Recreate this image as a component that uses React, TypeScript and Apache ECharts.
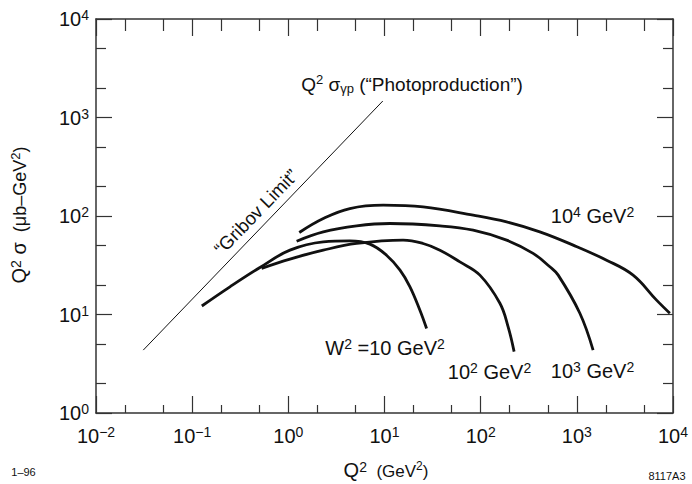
import React, { useEffect, useRef } from "react";
import * as echarts from "echarts";

// ---- data ----
const gribovQ2 = [0.031, 9.6];
const gribovVal = [4.35, 1470];

const w10Q2 = [0.126, 0.247, 0.507, 1.04, 2.31, 4.36, 7.05, 10.5, 14.5, 18.4, 23.3, 27.4];
const w10Val = [12.2, 19.1, 30.0, 45, 54.6, 55.9, 51.8, 40, 28.2, 19.1, 11.1, 7.2];

const w100Q2 = [0.527, 1.04, 2.31, 5.13, 15.6, 25.2, 37.7, 60.8, 98.2, 158.5, 193, 222.8];
const w100Val = [29.4, 36.5, 45, 52.6, 56.9, 52.6, 45, 34.2, 25.1, 13, 7.5, 4.2];

const w1000Q2 = [1.22, 2.31, 5.13, 11.4, 37.7, 83.6, 186, 351, 524, 640, 1075, 1476];
const w1000Val = [55.5, 69, 79.4, 83.9, 79.4, 71.8, 56.9, 41.7, 30.5, 25.1, 10.3, 4.35];

const w10000Q2 = [1.3, 2.31, 4.36, 9.7, 25.2, 83.6, 186, 412, 916, 2037, 3846, 6745, 9270];
const w10000Val = [68, 94.3, 119, 128.7, 123.7, 102, 87.1, 69, 50.6, 35.6, 25.1, 14, 10.3];

const majorX = [0.01, 0.1, 1, 10, 100, 1000, 10000];
const minorX = [0.02, 0.05, 0.2, 0.5, 2, 5, 20, 50, 200, 500, 2000, 5000];
const majorY = [1, 10, 100, 1000, 10000];
const minorY = [2, 5, 20, 50, 200, 500, 2000, 5000];

const FONT = "'Liberation Sans', Arial, Helvetica, sans-serif";
const INK = "#111";
const FRAME = "#333";

const zip = (a: number[], b: number[]) => a.map((v, i) => [v, b[i]]);

const tickFmt = (v: number) => {
  const e = Math.round(Math.log10(v));
  const s = e < 0 ? "\u2212" + -e : String(e);
  return `{b|10}{s|${s}}`;
};

const tickRich = {
  b: { fontSize: 20, lineHeight: 22, fontFamily: FONT, color: INK },
  s: { fontSize: 14, lineHeight: 10, verticalAlign: "top", fontFamily: FONT, color: INK },
};

function makeAxis(
  kind: "x" | "y",
  position: string,
  ticks: number[],
  len: number,
  showLine: boolean,
  labels: boolean
) {
  const isX = kind === "x";
  return {
    type: "log",
    logBase: 10,
    min: isX ? 0.01 : 1,
    max: 10000,
    position,
    gridIndex: 0,
    axisLine: { show: showLine, onZero: false, lineStyle: { color: FRAME, width: 1.5 } },
    axisTick: {
      show: true,
      inside: true,
      length: len,
      customValues: ticks,
      lineStyle: { color: FRAME, width: 1.2 },
    },
    minorTick: { show: false },
    splitLine: { show: false },
    axisLabel: labels
      ? {
          show: true,
          customValues: ticks,
          formatter: tickFmt,
          rich: tickRich,
          margin: isX ? 12 : 7,
        }
      : { show: false },
  };
}

const curveStyle = { color: INK, width: 2.8 };

function curve(q: number[], v: number[]) {
  return {
    type: "line",
    xAxisIndex: 0,
    yAxisIndex: 0,
    data: zip(q, v),
    showSymbol: false,
    symbol: "none",
    smooth: 0.4,
    lineStyle: curveStyle,
    silent: true,
  };
}

const labRich = {
  m: { fontSize: 20, lineHeight: 22, fontFamily: FONT, color: INK },
  s: { fontSize: 14, lineHeight: 10, verticalAlign: "top", fontFamily: FONT, color: INK },
};

function label(text: string, x: number, y: number, rich: any, rotation = 0) {
  return {
    type: "text",
    x,
    y,
    rotation,
    style: {
      text,
      rich,
      align: "center",
      verticalAlign: "middle",
      fill: INK,
      font: `20px ${FONT}`,
    },
    silent: true,
  };
}

const option = {
  animation: false,
  backgroundColor: "#fff",
  grid: { left: 96, right: 19, top: 19, bottom: 71, containLabel: false },
  xAxis: [
    makeAxis("x", "bottom", majorX, 17, true, true),
    makeAxis("x", "bottom", minorX, 8, false, false),
    makeAxis("x", "top", majorX, 17, true, false),
    makeAxis("x", "top", minorX, 12, false, false),
  ],
  yAxis: [
    makeAxis("y", "left", majorY, 16, true, true),
    makeAxis("y", "left", minorY, 10, false, false),
    makeAxis("y", "right", majorY, 16, true, false),
    makeAxis("y", "right", minorY, 10, false, false),
  ],
  series: [
    {
      type: "line",
      xAxisIndex: 0,
      yAxisIndex: 0,
      data: zip(gribovQ2, gribovVal),
      showSymbol: false,
      symbol: "none",
      lineStyle: { color: INK, width: 1 },
      silent: true,
    },
    curve(w10Q2, w10Val),
    curve(w100Q2, w100Val),
    curve(w1000Q2, w1000Val),
    curve(w10000Q2, w10000Val),
  ],
  graphic: [
    label(
      "{m|Q}{s|2}{m| \u03c3}{sub|\u03b3p}{m| (\u201cPhotoproduction\u201d)}",
      412,
      84,
      {
        m: { fontSize: 19, lineHeight: 22, fontFamily: FONT, color: INK },
        s: { fontSize: 13, lineHeight: 10, verticalAlign: "top", fontFamily: FONT, color: INK },
        sub: { fontSize: 13, lineHeight: 12, verticalAlign: "bottom", fontFamily: FONT, color: INK },
      }
    ),
    label(
      "{m|\u201cGribov Limit\u201d}",
      256,
      212,
      { m: { fontSize: 18.5, lineHeight: 20, fontFamily: FONT, color: INK } },
      0.8
    ),
    label("{m|W}{s|2}{m| =10 GeV}{s|2}", 385, 348, labRich),
    label("{m|10}{s|2}{m| GeV}{s|2}", 489.5, 372, labRich),
    label("{m|10}{s|3}{m| GeV}{s|2}", 592.5, 370.5, labRich),
    label("{m|10}{s|4}{m| GeV}{s|2}", 592.5, 215.5, labRich),
    // x axis title
    label("{q|Q}{qs|2}{g|  (GeV}{gs|2}{g|)}", 386, 470, {
      q: { fontSize: 20, lineHeight: 20, verticalAlign: "bottom", fontFamily: FONT, color: INK },
      qs: { fontSize: 14, lineHeight: 9, verticalAlign: "top", fontFamily: FONT, color: INK },
      g: { fontSize: 17, lineHeight: 17, verticalAlign: "bottom", fontFamily: FONT, color: INK },
      gs: { fontSize: 12, lineHeight: 13, verticalAlign: "top", fontFamily: FONT, color: INK },
    }),
    // y axis title
    label(
      "{q|Q}{qs|2}{q| \u03c3}{g|  (\u03bcb\u2013GeV}{gs|2}{g|)}",
      19,
      215,
      {
        q: { fontSize: 20, lineHeight: 20, verticalAlign: "bottom", fontFamily: FONT, color: INK },
        qs: { fontSize: 14, lineHeight: 9, verticalAlign: "top", fontFamily: FONT, color: INK },
        g: { fontSize: 18, lineHeight: 18, verticalAlign: "bottom", fontFamily: FONT, color: INK },
        gs: { fontSize: 13, lineHeight: 12, verticalAlign: "top", fontFamily: FONT, color: INK },
      },
      Math.PI / 2
    ),
    label("{t|1\u201396}", 23.5, 472, {
      t: { fontSize: 11, lineHeight: 12, fontFamily: FONT, color: INK },
    }),
    label("{t|8117A3}", 667, 476, {
      t: { fontSize: 11, lineHeight: 12, fontFamily: FONT, color: INK },
    }),
  ],
};

export default function App() {
  const ref = useRef<HTMLDivElement>(null);
  useEffect(() => {
    if (!ref.current) return;
    const chart = echarts.init(ref.current, null, { renderer: "svg" });
    chart.setOption(option as any);
    return () => chart.dispose();
  }, []);
  return (
    <div
      ref={ref}
      style={{ position: "fixed", left: 0, top: 0, width: 692, height: 484, background: "#fff" }}
    />
  );
}
